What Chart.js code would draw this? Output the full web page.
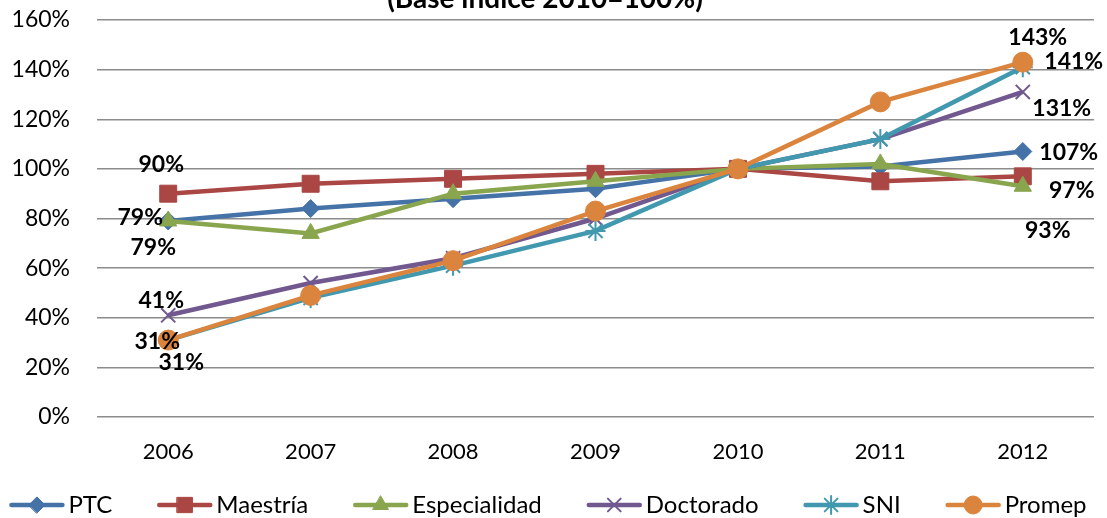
<!DOCTYPE html>
<html>
<head>
<meta charset="utf-8">
<script src="https://cdn.jsdelivr.net/npm/chart.js@4.4.0/dist/chart.umd.min.js"></script>
<style>
  html, body { margin: 0; padding: 0; background: #ffffff; }
  #wrap { width: 1107px; height: 518px; position: relative; }
</style>
</head>
<body>
<div id="wrap"><canvas id="c"></canvas></div>
<script>
// ---- data ----
const years = ['2006', '2007', '2008', '2009', '2010', '2011', '2012'];
const seriesNames = ['PTC', 'Maestría', 'Especialidad', 'Doctorado', 'SNI', 'Promep'];
const ptc          = [79, 84, 88, 92, 100, 101, 107];
const maestria     = [90, 94, 96, 98, 100, 95, 97];
const especialidad = [79, 74, 90, 95, 100, 102, 93];
const doctorado    = [41, 54, 64, 80, 100, 112, 131];
const sni          = [31, 48, 61, 75, 100, 112, 141];
const promep       = [31, 49, 63, 83, 100, 127, 143];
const yTicks = [0, 20, 40, 60, 80, 100, 120, 140, 160];
const titleText = '(Base índice 2010=100%)';

// ---- styles ----
const colors = ['#4572A7', '#AA4643', '#89A54E', '#71588F', '#4198AF', '#DB843D'];
const markers = ['rectRot', 'rect', 'triangle', 'crossRot', 'star', 'circle'];
const markerRadius = [9, 12, 10, 10, 10, 10];
const markerBorder = [1, 1, 1, 2, 2, 1];
// label placement: [index, dx, dy] offsets of text centre from the point
const labelPlacement = [
  [[0, -28, -3], [6, 46, 1]],
  [[0, -7, -29], [6, 49, 14]],
  [[0, -15, 27], [6, 25, 44]],
  [[0, -7, -15], [6, 39, 17]],
  [[0, -11, 1], [6, 51, -6]],
  [[0, 13, 22], [6, 15, -25]]
];
const FONT = 'Lato, "Open Sans", sans-serif';

const allSeries = [ptc, maestria, especialidad, doctorado, sni, promep];

const datasets = allSeries.map((vals, i) => ({
  label: seriesNames[i],
  data: vals,
  borderColor: colors[i],
  backgroundColor: colors[i],
  borderWidth: 4.5,
  pointStyle: markers[i],
  pointRadius: markerRadius[i],
  pointHoverRadius: markerRadius[i],
  pointBorderWidth: markerBorder[i],
  pointBackgroundColor: colors[i],
  pointBorderColor: colors[i],
  tension: 0,
  order: allSeries.length - i
}));

const titlePlugin = {
  id: 'cutTitle',
  afterDraw(chart) {
    const ctx = chart.ctx;
    ctx.save();
    ctx.font = 'bold 28px ' + FONT;
    ctx.fillStyle = '#000';
    ctx.textAlign = 'center';
    ctx.textBaseline = 'alphabetic';
    ctx.fillText(titleText, 545, 8);
    ctx.restore();
  }
};

const valueLabels = {
  id: 'valueLabels',
  afterDatasetsDraw(chart) {
    const ctx = chart.ctx;
    ctx.save();
    ctx.font = 'bold 23px ' + FONT;
    ctx.fillStyle = '#000';
    ctx.textAlign = 'center';
    ctx.textBaseline = 'middle';
    labelPlacement.forEach((list, di) => {
      const meta = chart.getDatasetMeta(di);
      list.forEach(([idx, dx, dy]) => {
        const pt = meta.data[idx];
        const v = chart.data.datasets[di].data[idx];
        ctx.fillText(v + '%', pt.x + dx, pt.y + dy);
      });
    });
    ctx.restore();
  }
};

// legend: line sample with marker, then text
const lineLegend = {
  id: 'lineLegend',
  afterDraw(chart) {
    const ctx = chart.ctx;
    const lineLen = 55, textGap = 4, itemGap = 45, cy = 505, centerX = 548;
    ctx.save();
    ctx.font = '24px ' + FONT;
    const names = chart.data.datasets.map(d => d.label);
    const widths = names.map(n => ctx.measureText(n).width);
    const total = widths.reduce((a, b) => a + b, 0) + names.length * (lineLen + textGap) + (names.length - 1) * itemGap;
    let x = centerX - total / 2;
    names.forEach((n, i) => {
      ctx.strokeStyle = colors[i];
      ctx.lineWidth = 4.5;
      ctx.lineCap = 'round';
      ctx.beginPath(); ctx.moveTo(x + 2, cy); ctx.lineTo(x + lineLen - 2, cy); ctx.stroke();
      ctx.fillStyle = colors[i];
      ctx.strokeStyle = colors[i];
      ctx.lineWidth = markerBorder[i];
      Chart.helpers.drawPoint(ctx, {
        pointStyle: markers[i], radius: markerRadius[i] * 0.9, borderWidth: markerBorder[i], rotation: 0
      }, x + lineLen / 2, cy);
      ctx.fillStyle = '#000';
      ctx.textAlign = 'left';
      ctx.textBaseline = 'middle';
      ctx.fillText(n, x + lineLen + textGap, cy);
      x += lineLen + textGap + widths[i] + itemGap;
    });
    ctx.restore();
  }
};

new Chart(document.getElementById('c'), {
  type: 'line',
  data: { labels: years, datasets },
  options: {
    responsive: true,
    maintainAspectRatio: false,
    animation: false,
    layout: { padding: { top: 20, right: 10, left: 0, bottom: 0 } },
    plugins: {
      title: { display: false },
      tooltip: { enabled: false },
      legend: { display: false }
    },
    scales: {
      x: {
        offset: true,
        grid: { display: false, drawTicks: false },
        border: { display: false },
        ticks: { color: '#000', font: { family: FONT, size: 22 }, padding: 22 },
        afterFit(scale) { scale.height = 101; scale.paddingLeft = 0; scale.paddingRight = 0; }
      },
      y: {
        min: 0,
        max: 160,
        afterBuildTicks(scale) { scale.ticks = yTicks.map(v => ({ value: v })); },
        grid: { color: '#8c8c8c', lineWidth: 1.5, drawTicks: false },
        border: { display: false },
        ticks: {
          color: '#000',
          font: { family: FONT, size: 23 },
          padding: 27,
          callback: v => v + '%'
        },
        afterFit(scale) { scale.width = 97; scale.paddingTop = 0; scale.paddingBottom = 0; }
      }
    }
  },
  plugins: [titlePlugin, valueLabels, lineLegend]
});
</script>
</body>
</html>
